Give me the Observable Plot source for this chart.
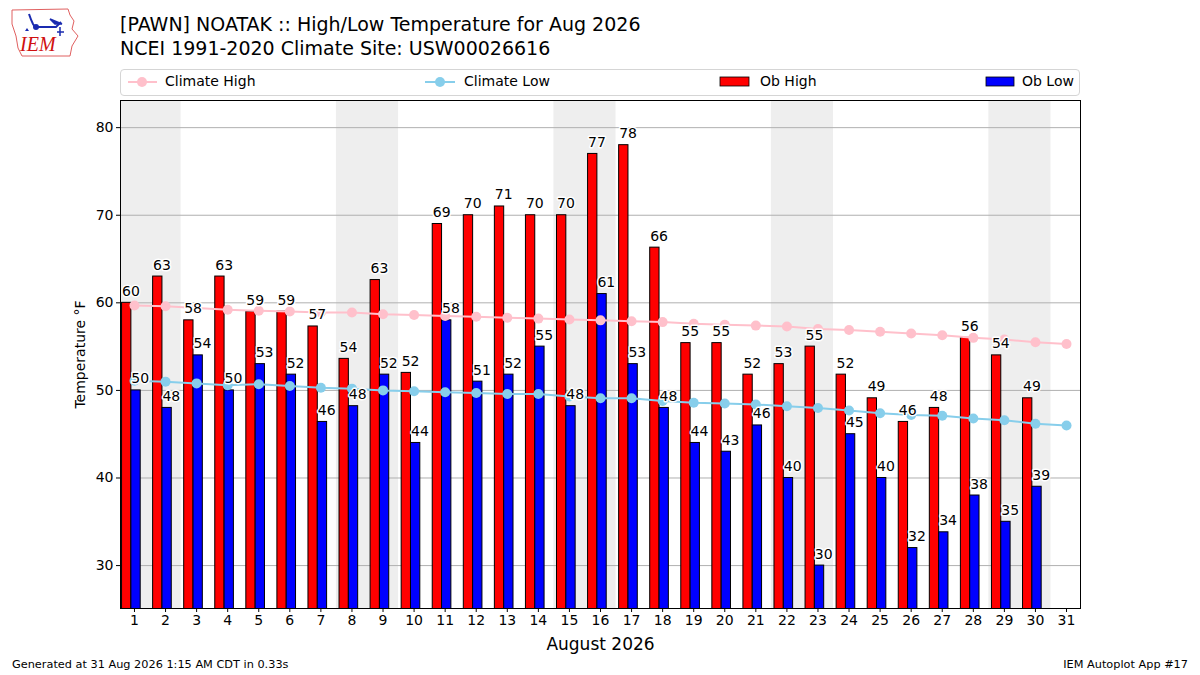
<!DOCTYPE html>
<html><head><meta charset="utf-8">
<script src="https://cdn.jsdelivr.net/npm/d3@7"></script>
<script src="https://cdn.jsdelivr.net/npm/@observablehq/plot@0.6"></script>
<style>
body{margin:0;background:#fff;font-family:"DejaVu Sans",sans-serif;color:#000;}
#wrap{position:relative;width:1200px;height:675px;overflow:hidden;background:#fff;}
#chart{position:absolute;left:0;top:0;}
.t{position:absolute;white-space:nowrap;}
#title1{left:120px;top:13px;font-size:19px;}
#title2{left:120px;top:37px;font-size:19px;}
#legend{position:absolute;left:120px;top:69px;width:958px;height:25px;border:1px solid #d5d5d5;border-radius:4px;}
.lt{position:absolute;top:3px;font-size:14px;}
#foot1{left:12px;top:658px;font-size:11.3px;}
#foot2{right:12px;top:658px;font-size:11.3px;}
</style></head>
<body><div id="wrap">
<svg class="t" style="left:8px;top:6px" width="72" height="54" viewBox="0 0 72 54">
  <path d="M4,4 L60,3 L62,9 L66,15 L64,23 L70,30 L64,40 L62,50 L14,50 L10,42 L8,30 L4,18 Z" fill="none" stroke="#e06060" stroke-width="1"/>
  <path d="M21,8 q2,6 4,10 L27,21 L48,21 L53,16" fill="none" stroke="#1a2bb0" stroke-width="2"/>
  <circle cx="28" cy="21" r="3" fill="#1a2bb0"/>
  <path d="M42,13 L54,18 L47,18 Z M52,21 L52,30 M49,26 L56,26" fill="#1a2bb0" stroke="#1a2bb0" stroke-width="1.5"/>
  <path d="M19,22 l2,3 l-4,0 z" fill="#1a2bb0"/>
  <text x="12" y="45" font-family="Liberation Serif, serif" font-style="italic" font-size="20" fill="#d01010">IEM</text>
</svg>
<div id="title1" class="t">[PAWN] NOATAK :: High/Low Temperature for Aug 2026</div>
<div id="title2" class="t">NCEI 1991-2020 Climate Site: USW00026616</div>
<div id="legend">
  <svg style="position:absolute;left:0;top:0" width="958" height="25">
    <line x1="7" x2="36" y1="12" y2="12" stroke="pink" stroke-width="2"/><circle cx="21" cy="12" r="5" fill="pink"/>
    <line x1="304" x2="334" y1="12" y2="12" stroke="skyblue" stroke-width="2"/><circle cx="319" cy="12" r="5" fill="skyblue"/>
    <rect x="599" y="7" width="29" height="9" fill="red" stroke="black" stroke-width="0.8"/>
    <rect x="865" y="7" width="28" height="9" fill="blue" stroke="black" stroke-width="0.8"/>
  </svg>
  <span class="lt" style="left:44px">Climate High</span>
  <span class="lt" style="left:343px">Climate Low</span>
  <span class="lt" style="left:639px">Ob High</span>
  <span class="lt" style="left:901px">Ob Low</span>
</div>
<div id="chart"></div>
<div id="foot1" class="t">Generated at 31 Aug 2026 1:15 AM CDT in 0.33s</div>
<div id="foot2" class="t">IEM Autoplot App #17</div>
</div>
<script>
const days = d3.range(1, 32);
const obHigh = [60, 63, 58, 63, 59, 59, 57.3, 53.6, 62.6, 52, 69, 70, 71, 70, 70, 77, 78, 66.3, 55.4, 55.4, 51.8, 53, 55, 51.8, 49.1, 46.4, 48, 56, 54, 49.1];
const obLow = [50, 48, 54, 50, 53, 51.8, 46.4, 48.2, 51.8, 44, 58, 51, 51.8, 55, 48.2, 61, 53, 48, 44, 43, 46, 40, 30, 45, 40, 32, 33.8, 38, 35, 39];
const climHigh = [59.7, 59.6, 59.4, 59.2, 59.1, 59.0, 58.9, 58.9, 58.7, 58.6, 58.5, 58.4, 58.3, 58.2, 58.1, 58.0, 57.9, 57.8, 57.6, 57.5, 57.4, 57.3, 57.0, 56.9, 56.7, 56.5, 56.3, 56.0, 55.8, 55.5, 55.3];
const climLow = [51.1, 51.0, 50.8, 50.6, 50.7, 50.5, 50.3, 50.2, 50.0, 49.9, 49.8, 49.7, 49.6, 49.6, 49.3, 49.1, 49.1, 48.8, 48.6, 48.5, 48.4, 48.2, 48.0, 47.7, 47.4, 47.2, 47.1, 46.8, 46.6, 46.2, 46.0];
const xTicks = days;
const yTicks = [30, 40, 50, 60, 70, 80];

const saturdays = days.filter(d => new Date(2026, 7, d).getDay() === 6);
const highRows = obHigh.map((v, i) => ({day: days[i], v}));
const lowRows = obLow.map((v, i) => ({day: days[i], v}));
const climRows = days.map((d, i) => ({day: d, hi: climHigh[i], lo: climLow[i]}));

const chart = Plot.plot({
  width: 1200, height: 675,
  marginTop: 100, marginBottom: 67, marginLeft: 120, marginRight: 120,
  style: {fontFamily: "DejaVu Sans", fontSize: "13px", background: "transparent"},
  x: {domain: [0.55, 31.45]},
  y: {domain: [25.1, 83.1]},
  marks: [
    Plot.rect(saturdays, {x1: d => d - 0.5, x2: d => d + 1.5, fill: "#eeeeee", clip: true}),
    Plot.gridY(yTicks, {stroke: "#b0b0b0", strokeOpacity: 1, strokeWidth: 1}),
    Plot.rectY(highRows, {x1: d => d.day - 0.4, x2: d => d.day - 0.1, y1: 0, y2: "v", fill: "red", stroke: "black", strokeWidth: 1, clip: true}),
    Plot.rectY(lowRows, {x1: d => d.day - 0.1, x2: d => d.day + 0.2, y1: 0, y2: "v", fill: "blue", stroke: "black", strokeWidth: 1, clip: true}),
    Plot.line(climRows, {x: "day", y: "hi", stroke: "pink", strokeWidth: 2}),
    Plot.dot(climRows, {x: "day", y: "hi", r: 5, fill: "pink"}),
    Plot.line(climRows, {x: "day", y: "lo", stroke: "skyblue", strokeWidth: 2}),
    Plot.dot(climRows, {x: "day", y: "lo", r: 5, fill: "skyblue"}),
    Plot.text(highRows, {x: d => d.day - 0.4, y: "v", text: d => String(Math.round(d.v)), textAnchor: "start", lineAnchor: "bottom", dy: -7, fontSize: 14, fill: "black", stroke: "white", strokeWidth: 3}),
    Plot.text(lowRows, {x: d => d.day - 0.1, y: "v", text: d => String(Math.round(d.v)), textAnchor: "start", lineAnchor: "bottom", dy: -7, fontSize: 14, fill: "black", stroke: "white", strokeWidth: 3}),
    Plot.frame({stroke: "black", strokeWidth: 1}),
    Plot.axisX({ticks: xTicks, tickFormat: d => String(d), tickSize: 4, tickPadding: 3, fontSize: 14, label: null}),
    Plot.axisY({ticks: yTicks, tickSize: 4, tickPadding: 3, fontSize: 14, label: null}),
    Plot.text(["August 2026"], {frameAnchor: "bottom", dy: 41, fontSize: 17, fill: "black"}),
    Plot.text(["Temperature °F"], {frameAnchor: "left", textAnchor: "middle", dx: -40, rotate: -90, fontSize: 14, fill: "black"})
  ]
});
document.getElementById("chart").appendChild(chart);
</script>
</body></html>
